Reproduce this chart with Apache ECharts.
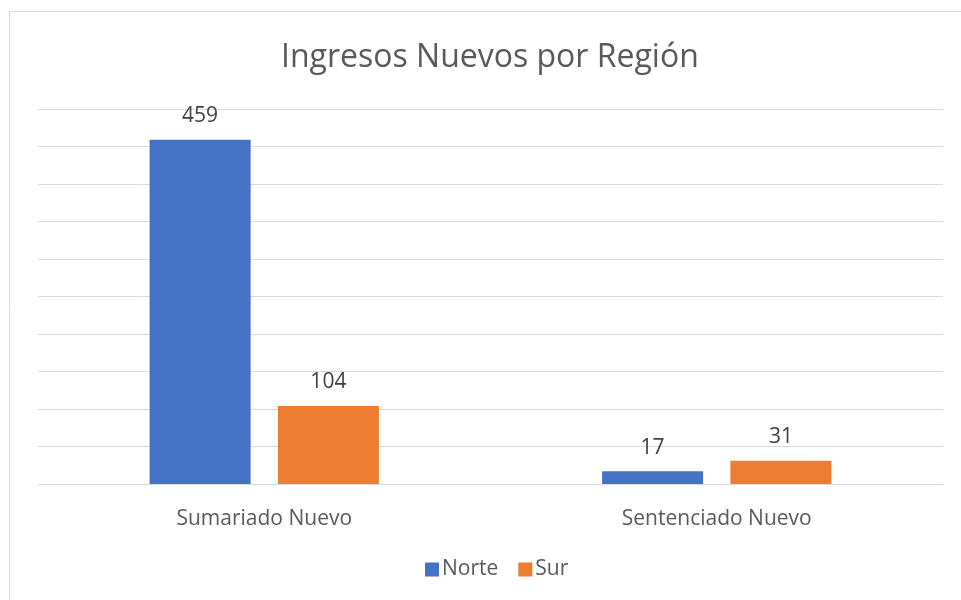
<!DOCTYPE html>
<html lang="es">
<head>
    <meta charset="UTF-8">
    <title>Ingresos Nuevos por Región</title>
    <script src="https://cdn.jsdelivr.net/npm/echarts@6/dist/echarts.min.js"></script>
    <style>
        html, body { margin: 0; padding: 0; background: #fff; }
        #chart { width: 961px; height: 600px; }
    </style>
</head>
<body>
<div id="chart"></div>
<script type="text/javascript">
    var categories = ['Sumariado Nuevo', 'Sentenciado Nuevo'];
    var norte = [459, 17];
    var sur = [104, 31];

    var font = '"Open Sans", "Noto Sans", sans-serif';

    var myChart = echarts.init(document.getElementById('chart'));
    var option = {
        backgroundColor: '#ffffff',
        textStyle: { fontFamily: font },
        graphic: [{
            type: 'rect',
            shape: { x: 9.5, y: 11.5, width: 960, height: 600 },
            style: { fill: 'none', stroke: '#d9d9d9', lineWidth: 1 },
            silent: true
        }],
        title: {
            text: 'Ingresos Nuevos por Región',
            left: 276,
            top: 37,
            textStyle: { fontFamily: font, fontSize: 32, fontWeight: 'normal', color: '#595959' }
        },
        legend: {
            data: ['Norte', 'Sur'],
            bottom: 15,
            left: 420,
            icon: 'rect',
            itemWidth: 14,
            itemHeight: 14,
            itemGap: 20,
            textStyle: { fontFamily: font, fontSize: 21, color: '#595959', padding: [0, 0, 0, -2] }
        },
        grid: { left: 38, right: 18, top: 109, bottom: 116 },
        xAxis: {
            type: 'category',
            data: categories,
            axisLine: { lineStyle: { color: '#d9d9d9', width: 1 } },
            axisTick: { show: false },
            axisLabel: { fontFamily: font, fontSize: 21, color: '#595959', margin: 25 }
        },
        yAxis: {
            type: 'value',
            min: 0,
            max: 500,
            interval: 50,
            axisLabel: { show: false },
            axisLine: { show: false },
            axisTick: { show: false },
            splitLine: { lineStyle: { color: '#d9d9d9', width: 1 } }
        },
        series: [
            {
                name: 'Norte',
                type: 'bar',
                data: norte,
                barWidth: 101,
                barGap: '27%',
                itemStyle: { color: '#4472c4' },
                label: { show: true, position: 'top', distance: 13, fontFamily: font, fontSize: 21, color: '#404040' }
            },
            {
                name: 'Sur',
                type: 'bar',
                data: sur,
                barWidth: 101,
                itemStyle: { color: '#ed7d31' },
                label: { show: true, position: 'top', distance: 13, fontFamily: font, fontSize: 21, color: '#404040' }
            }
        ]
    };
    myChart.setOption(option);
</script>
</body>
</html>
